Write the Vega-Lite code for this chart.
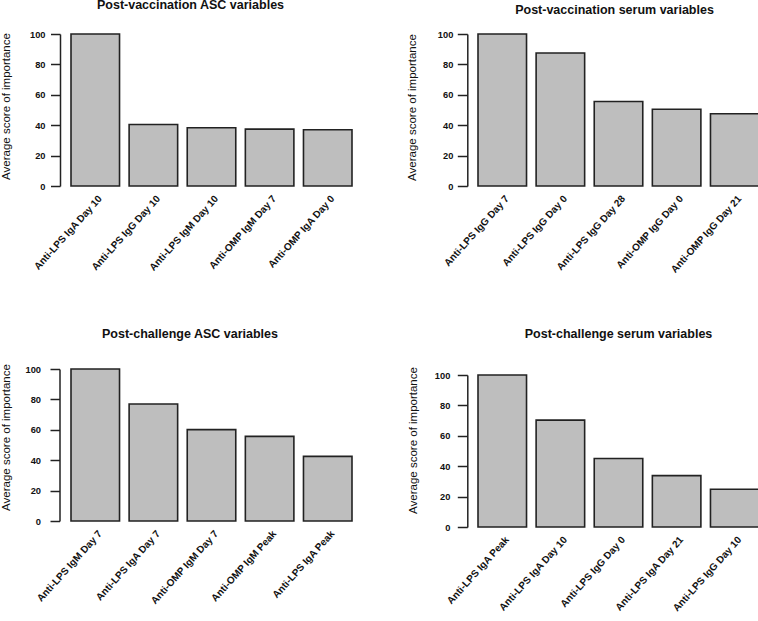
{
  "$schema": "https://vega.github.io/schema/vega-lite/v6.json",
  "padding": {"top": -2, "left": 0, "right": 0, "bottom": 0},
  "background": "white",
  "datasets": {
    "p1": [
      {"variable": "Anti-LPS IgA Day 10", "score": 100},
      {"variable": "Anti-LPS IgG Day 10", "score": 40.5},
      {"variable": "Anti-LPS IgM Day 10", "score": 38.3},
      {"variable": "Anti-OMP IgM Day 7", "score": 37.4},
      {"variable": "Anti-OMP IgA Day 0", "score": 37.0}
    ],
    "p2": [
      {"variable": "Anti-LPS IgG Day 7", "score": 100},
      {"variable": "Anti-LPS IgG Day 0", "score": 87.5},
      {"variable": "Anti-LPS IgG Day 28", "score": 55.6},
      {"variable": "Anti-OMP IgG Day 0", "score": 50.5},
      {"variable": "Anti-OMP IgG Day 21", "score": 47.5}
    ],
    "p3": [
      {"variable": "Anti-LPS IgM Day 7", "score": 100},
      {"variable": "Anti-LPS IgA Day 7", "score": 77.0},
      {"variable": "Anti-OMP IgM Day 7", "score": 60.1},
      {"variable": "Anti-OMP IgM Peak", "score": 55.7},
      {"variable": "Anti-LPS IgA Peak", "score": 42.5}
    ],
    "p4": [
      {"variable": "Anti-LPS IgA Peak", "score": 100},
      {"variable": "Anti-LPS IgA Day 10", "score": 70.3},
      {"variable": "Anti-LPS IgG Day 0", "score": 45.1},
      {"variable": "Anti-LPS IgA Day 21", "score": 33.8},
      {"variable": "Anti-LPS IgG Day 10", "score": 24.8}
    ]
  },
  "config": {
    "font": "Liberation Sans",
    "view": {"stroke": null},
    "title": {"fontSize": 12.5, "fontWeight": "bold", "color": "#111", "anchor": "middle", "frame": "group"},
    "axis": {"grid": false, "labelColor": "#111", "titleColor": "#111", "domainColor": "#222", "tickColor": "#222", "domainWidth": 1.5, "tickWidth": 1.5}
  },
  "bounds": "full",
  "spacing": 53,
  "hconcat": [
    {
      "bounds": "flush",
      "spacing": 183,
      "vconcat": [
        {
          "width": 281, "height": 152,
          "data": {"name": "p1"},
          "title": {"text": "Post-vaccination ASC variables", "dx": -21, "offset": 19},
          "mark": {"type": "bar", "fill": "#bebebe", "stroke": "#222", "strokeWidth": 1.6},
          "encoding": {
            "x": {"field": "variable", "type": "nominal", "sort": null, "scale": {"paddingInner": 0.165, "paddingOuter": 0},
              "axis": {"title": null, "domain": false, "ticks": false, "tickSize": 0, "labelAngle": -48, "labelAlign": "right", "labelBaseline": "middle", "labelFontSize": 10, "labelFontWeight": "bold", "labelPadding": 10.7, "labelOffset": 5, "labelLimit": 0, "labelOverlap": false}},
            "y": {"field": "score", "type": "quantitative", "scale": {"domain": [0, 100], "nice": false},
              "axis": {"title": "Average score of importance", "values": [0, 20, 40, 60, 80, 100], "offset": 11, "tickSize": 9.5, "labelPadding": 5.5, "labelFontSize": 9.3, "labelFontWeight": "bold", "titleFontSize": 11.5, "titleFontWeight": "normal", "titleX": -48.5, "titleY": 72}}
          }
        },
        {
          "width": 281, "height": 152,
          "data": {"name": "p3"},
          "title": {"text": "Post-challenge ASC variables", "dx": -21.5, "offset": 23.4},
          "mark": {"type": "bar", "fill": "#bebebe", "stroke": "#222", "strokeWidth": 1.6},
          "encoding": {
            "x": {"field": "variable", "type": "nominal", "sort": null, "scale": {"paddingInner": 0.165, "paddingOuter": 0},
              "axis": {"title": null, "domain": false, "ticks": false, "tickSize": 0, "labelAngle": -48, "labelAlign": "right", "labelBaseline": "middle", "labelFontSize": 10, "labelFontWeight": "bold", "labelPadding": 10.7, "labelOffset": 5, "labelLimit": 0, "labelOverlap": false}},
            "y": {"field": "score", "type": "quantitative", "scale": {"domain": [0, 100], "nice": false},
              "axis": {"title": "Average score of importance", "values": [0, 20, 40, 60, 80, 100], "offset": 11.5, "tickSize": 9.5, "labelPadding": 9.5, "labelFontSize": 9.3, "labelFontWeight": "bold", "titleFontSize": 11.5, "titleFontWeight": "normal", "titleX": -48, "titleY": 68}}
          }
        }
      ]
    },
    {
      "bounds": "flush",
      "spacing": 189,
      "vconcat": [
        {
          "width": 281, "height": 152,
          "data": {"name": "p2"},
          "title": {"text": "Post-vaccination serum variables", "dx": -4, "offset": 13.8},
          "mark": {"type": "bar", "fill": "#bebebe", "stroke": "#222", "strokeWidth": 1.6},
          "encoding": {
            "x": {"field": "variable", "type": "nominal", "sort": null, "scale": {"paddingInner": 0.165, "paddingOuter": 0},
              "axis": {"title": null, "domain": false, "ticks": false, "tickSize": 0, "labelAngle": -48, "labelAlign": "right", "labelBaseline": "middle", "labelFontSize": 10, "labelFontWeight": "bold", "labelPadding": 10.7, "labelOffset": 5, "labelLimit": 0, "labelOverlap": false}},
            "y": {"field": "score", "type": "quantitative", "scale": {"domain": [0, 100], "nice": false},
              "axis": {"title": "Average score of importance", "values": [0, 20, 40, 60, 80, 100], "offset": 10.7, "tickSize": 10, "labelPadding": 4.5, "labelFontSize": 9.3, "labelFontWeight": "bold", "titleFontSize": 11.5, "titleFontWeight": "normal", "titleX": -50, "titleY": 73}}
          }
        },
        {
          "width": 281, "height": 152,
          "data": {"name": "p4"},
          "title": {"text": "Post-challenge serum variables", "dx": 0, "offset": 26},
          "mark": {"type": "bar", "fill": "#bebebe", "stroke": "#222", "strokeWidth": 1.6},
          "encoding": {
            "x": {"field": "variable", "type": "nominal", "sort": null, "scale": {"paddingInner": 0.165, "paddingOuter": 0},
              "axis": {"title": null, "domain": false, "ticks": false, "tickSize": 0, "labelAngle": -48, "labelAlign": "right", "labelBaseline": "middle", "labelFontSize": 10, "labelFontWeight": "bold", "labelPadding": 10.7, "labelOffset": 5, "labelLimit": 0, "labelOverlap": false}},
            "y": {"field": "score", "type": "quantitative", "scale": {"domain": [0, 100], "nice": false},
              "axis": {"title": "Average score of importance", "values": [0, 20, 40, 60, 80, 100], "offset": 10.7, "tickSize": 10, "labelPadding": 7.5, "labelFontSize": 9.3, "labelFontWeight": "bold", "titleFontSize": 11.5, "titleFontWeight": "normal", "titleX": -49.3, "titleY": 65}}
          }
        }
      ]
    }
  ]
}
